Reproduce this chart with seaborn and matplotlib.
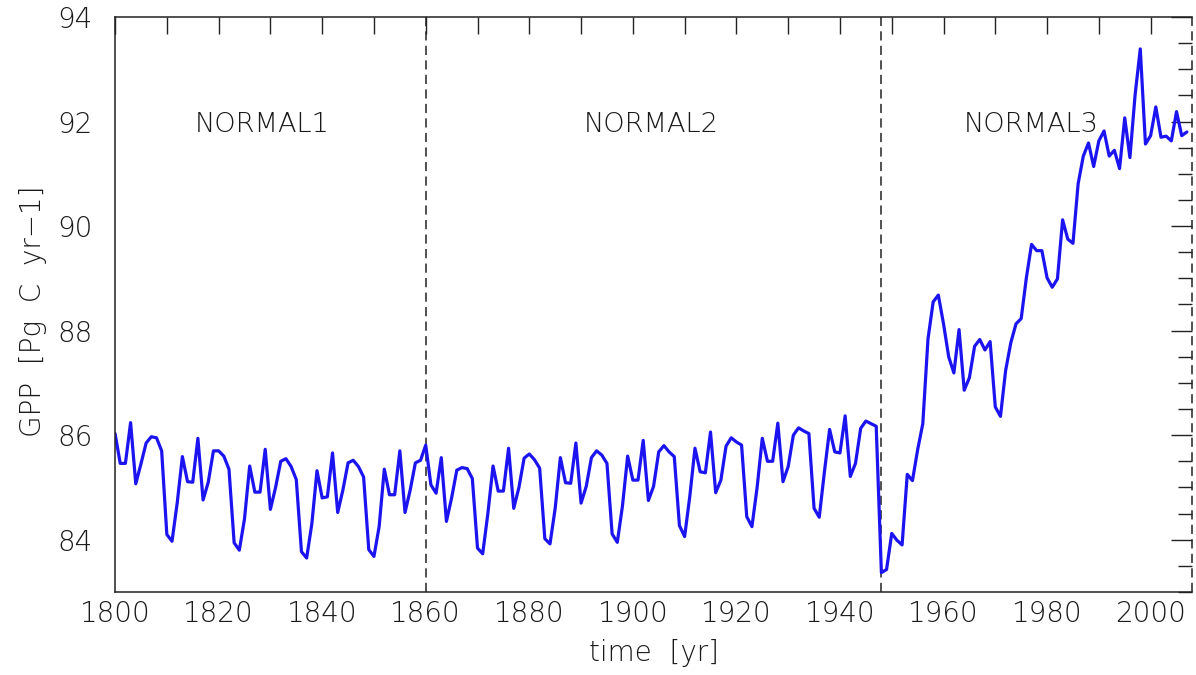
import matplotlib
matplotlib.use("Agg")
import pandas as pd
import seaborn as sns
import matplotlib.pyplot as plt
from matplotlib.ticker import MultipleLocator

# annual global GPP
years = list(range(1800, 2008))
gpp = [
    86.03, 85.46, 85.46, 86.24, 85.07, 85.45, 85.85, 85.97, 85.95, 85.70,
    84.10, 83.97, 84.70, 85.59, 85.11, 85.10, 85.94, 84.76, 85.10, 85.70,
    85.70, 85.60, 85.35, 83.94, 83.80, 84.40, 85.41, 84.91, 84.91, 85.73,
    84.58, 85.00, 85.50, 85.55, 85.40, 85.15, 83.77, 83.65, 84.30, 85.32,
    84.80, 84.82, 85.66, 84.52, 84.95, 85.47, 85.52, 85.40, 85.20, 83.81,
    83.68, 84.25, 85.35, 84.86, 84.86, 85.70, 84.52, 84.95, 85.47, 85.52,
    85.81, 85.05, 84.89, 85.57, 84.35, 84.80, 85.33, 85.38, 85.36, 85.17,
    83.84, 83.73, 84.50, 85.41, 84.93, 84.93, 85.75, 84.60, 85.00, 85.56,
    85.64, 85.53, 85.37, 84.02, 83.92, 84.60, 85.57, 85.09, 85.08, 85.85,
    84.70, 85.02, 85.57, 85.70, 85.62, 85.46, 84.11, 83.95, 84.65, 85.60,
    85.14, 85.14, 85.90, 84.75, 85.02, 85.68, 85.80, 85.68, 85.59, 84.27,
    84.06, 84.83, 85.75, 85.30, 85.28, 86.06, 84.90, 85.14, 85.79, 85.95,
    85.87, 85.81, 84.44, 84.25, 85.00, 85.94, 85.50, 85.50, 86.23, 85.11,
    85.40, 86.00, 86.14, 86.08, 86.03, 84.60, 84.43, 85.30, 86.11, 85.68,
    85.66, 86.37, 85.21, 85.46, 86.13, 86.27, 86.22, 86.17, 83.37, 83.43,
    84.12, 83.99, 83.90, 85.25, 85.13, 85.72, 86.22, 87.84, 88.55, 88.68,
    88.13, 87.50, 87.19, 88.02, 86.86, 87.10, 87.70, 87.83, 87.63, 87.79,
    86.54, 86.36, 87.24, 87.77, 88.13, 88.23, 89.01, 89.65, 89.53, 89.53,
    89.01, 88.83, 88.99, 90.12, 89.75, 89.67, 90.81, 91.34, 91.59, 91.14,
    91.63, 91.82, 91.34, 91.45, 91.10, 92.07, 91.31, 92.51, 93.39, 91.57,
    91.73, 92.28, 91.70, 91.72, 91.63, 92.19, 91.73, 91.80,
]

# period boundaries and labels
bounds = [1860, 1948, 2008]
period_names = ["NORMAL1", "NORMAL2", "NORMAL3"]
label_x = [1828.5, 1903.5, 1977.0]
label_y = 91.95

df = pd.DataFrame({"year": years, "gpp": gpp})

sns.set_theme(style="white")
plt.rcParams["font.family"] = ["DejaVu Sans"]
plt.rcParams["font.weight"] = "light"
plt.rcParams["axes.labelweight"] = "light"

fig = plt.figure(figsize=(11.96, 6.75), dpi=100)
ax = fig.add_axes([0.0962, 0.1230, 0.9005, 0.8518])

sns.lineplot(data=df, x="year", y="gpp", color="#1c14f0", linewidth=2.3, ax=ax)

# dashed separators
for b in bounds:
    ax.axvline(b, color="#222222", linestyle=(0, (6, 3.5)), linewidth=1.1,
               clip_on=False, zorder=1)

for name, xp in zip(period_names, label_x):
    ax.text(xp, label_y, name, ha="center", va="center", fontsize=19.5,
            color="#1a1a1a", fontweight="light")

ax.set_xlim(1800, 2008)
ax.set_ylim(83, 94)
ax.xaxis.set_major_locator(MultipleLocator(20))
ax.xaxis.set_minor_locator(MultipleLocator(10))
ax.yaxis.set_major_locator(MultipleLocator(2))
ax.yaxis.set_minor_locator(MultipleLocator(0.5))

ax.tick_params(axis="both", which="both", direction="in", top=True, right=True,
               color="#222222", width=1.0, labelcolor="#1a1a1a", labelsize=20)
ax.tick_params(axis="x", which="both", length=12, pad=6)
ax.tick_params(axis="y", which="major", length=15, pad=16)
ax.tick_params(axis="y", which="minor", length=10)

for side in ["left", "bottom", "top"]:
    ax.spines[side].set_color("#222222")
    ax.spines[side].set_linewidth(1.1)
ax.spines["right"].set_visible(False)

ax.set_xlabel("time  [yr]", fontsize=20, color="#1a1a1a", labelpad=8,
              fontweight="light")
ax.set_ylabel("GPP  [Pg  C  yr\u22121]", fontsize=20, color="#1a1a1a",
              fontweight="light")
ax.yaxis.set_label_coords(-0.063, 0.489)

fig.savefig("out.png", dpi=100)
